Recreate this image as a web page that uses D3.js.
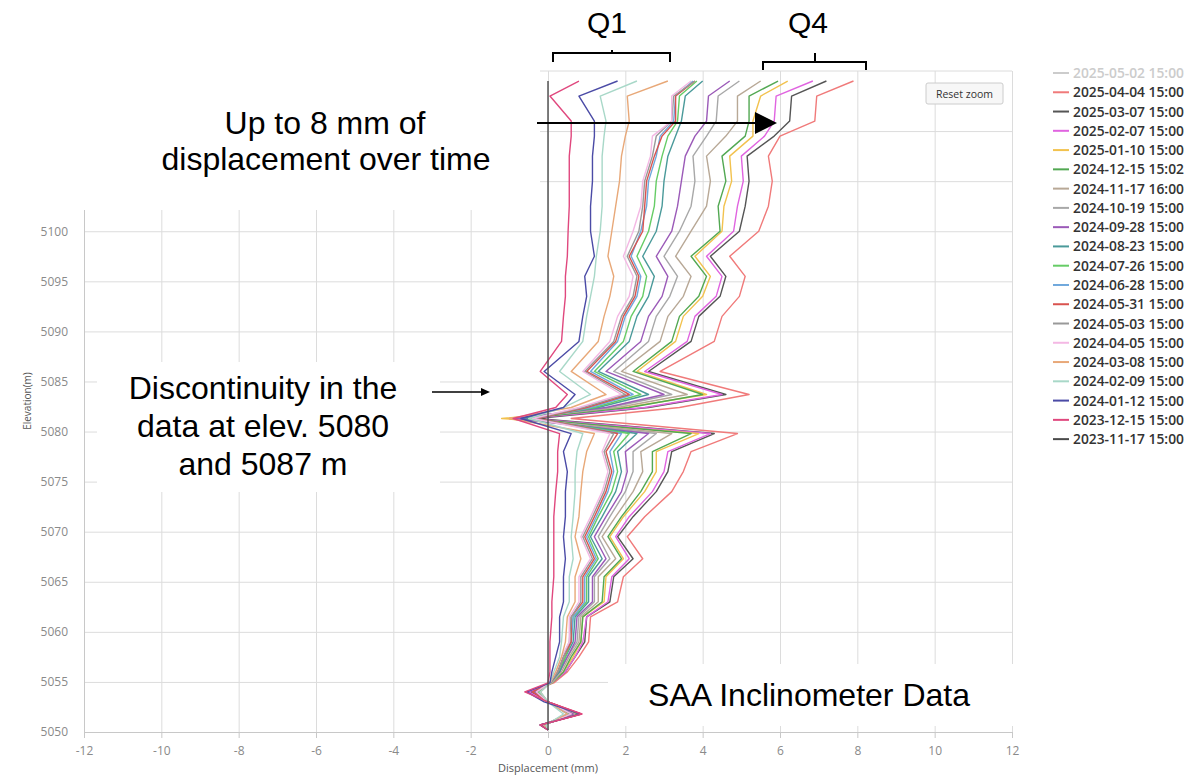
<!DOCTYPE html>
<html>
<head>
<meta charset="utf-8">
<script src="https://cdn.jsdelivr.net/npm/d3@7"></script>
<style>
  body { margin: 0; background: #fff; }
  svg { display: block; }
  .tick text { font-family: "Open Sans", sans-serif; }
</style>
</head>
<body>
<svg id="chart" width="1188" height="777"></svg>
<script>
// elevation of each sensor node (m), top to bottom
var elevations = [5115.0, 5113.5, 5111.0, 5109.5, 5107.5, 5105.0, 5102.5, 5100.0, 5097.5, 5095.5,
                  5093.5, 5091.5, 5089.0, 5086.0, 5083.7, 5082.4, 5081.3, 5079.8, 5078.0, 5076.0,
                  5074.0, 5071.5, 5069.5, 5067.3, 5065.5, 5063.0, 5061.5, 5059.0, 5057.5, 5056.0,
                  5054.9, 5054.0, 5053.0, 5051.8, 5050.7, 5050.2];

// cumulative displacement (mm) per survey, same order as elevations
var d20250404 = [7.9, 6.95, 6.9, 6.0, 5.7, 5.8, 5.7, 5.45, 4.7, 5.1, 4.95, 4.5, 4.3, 2.9, 5.2, 3.4, 0.6, 4.9, 3.7, 3.5, 3.2, 2.5, 2.05, 2.45, 1.95, 1.8, 1.1, 1.05, 0.8, 0.5, 0.15, -0.5, 0.0, 0.85, -0.2, 0.0];
var d20250307 = [7.2, 6.3, 6.25, 5.85, 5.15, 5.2, 5.1, 4.95, 4.2, 4.6, 4.45, 3.9, 3.7, 2.6, 4.6, 2.6, -0.3, 4.3, 3.2, 3.1, 2.8, 2.2, 1.8, 2.2, 1.7, 1.6, 1.0, 0.95, 0.7, 0.45, 0.1, -0.45, 0.0, 0.8, -0.2, 0.0];
var d20250207 = [6.85, 5.9, 5.85, 5.6, 5.0, 5.05, 4.9, 4.8, 4.1, 4.5, 4.35, 3.8, 3.6, 2.5, 4.5, 2.5, -0.5, 4.2, 3.1, 3.0, 2.7, 2.1, 1.75, 2.1, 1.65, 1.55, 1.0, 0.9, 0.7, 0.45, 0.1, -0.5, 0.0, 0.82, -0.2, 0.0];
var d20250110 = [6.2, 5.5, 5.3, 5.3, 4.7, 4.75, 4.55, 4.5, 3.8, 4.2, 4.0, 3.5, 3.3, 2.3, 4.1, 2.0, -1.2, 3.9, 2.8, 2.8, 2.5, 1.95, 1.6, 1.95, 1.5, 1.45, 0.9, 0.85, 0.65, 0.4, 0.1, -0.3, -0.05, 0.7, -0.15, 0.0];
var d20241215 = [5.95, 5.2, 5.2, 5.1, 4.5, 4.6, 4.4, 4.45, 3.7, 4.1, 3.9, 3.4, 3.2, 2.2, 4.0, 2.1, -0.6, 3.7, 2.7, 2.7, 2.4, 1.9, 1.55, 1.9, 1.45, 1.4, 0.9, 0.85, 0.6, 0.4, 0.1, -0.35, 0.0, 0.75, -0.15, 0.0];
var d20241117 = [5.5, 4.9, 4.9, 4.6, 4.1, 4.2, 4.1, 3.7, 3.3, 3.7, 3.5, 3.1, 2.9, 1.9, 3.6, 1.8, -0.8, 3.2, 2.4, 2.45, 2.2, 1.75, 1.4, 1.75, 1.3, 1.3, 0.85, 0.8, 0.55, 0.35, 0.1, -0.3, 0.0, 0.7, -0.15, 0.0];
var d20241019 = [4.95, 4.4, 4.35, 4.1, 3.75, 3.8, 3.7, 3.4, 3.0, 3.35, 3.15, 2.8, 2.6, 1.7, 3.2, 1.6, -0.7, 2.8, 2.2, 2.2, 2.0, 1.6, 1.3, 1.6, 1.2, 1.2, 0.8, 0.75, 0.5, 0.3, 0.05, -0.3, 0.0, 0.65, -0.15, 0.0];
var d20240928 = [4.7, 4.15, 4.1, 3.8, 3.55, 3.45, 3.35, 3.2, 2.8, 3.1, 2.95, 2.6, 2.4, 1.5, 3.0, 1.5, -0.9, 2.6, 2.0, 2.05, 1.9, 1.5, 1.2, 1.5, 1.15, 1.15, 0.75, 0.7, 0.5, 0.3, 0.05, -0.35, 0.0, 0.65, -0.15, 0.0];
var d20240823 = [4.0, 3.55, 3.45, 3.3, 3.1, 3.0, 2.95, 2.8, 2.45, 2.75, 2.6, 2.3, 2.1, 1.3, 2.6, 1.3, -0.6, 2.3, 1.8, 1.9, 1.75, 1.4, 1.1, 1.4, 1.05, 1.05, 0.7, 0.65, 0.45, 0.3, 0.05, -0.3, 0.0, 0.6, -0.1, 0.0];
var d20240726 = [3.85, 3.4, 3.35, 3.1, 2.95, 2.8, 2.75, 2.6, 2.3, 2.55, 2.45, 2.15, 1.95, 1.2, 2.4, 1.2, -0.5, 2.1, 1.7, 1.8, 1.65, 1.3, 1.05, 1.3, 1.0, 1.0, 0.65, 0.6, 0.45, 0.25, 0.05, -0.25, 0.0, 0.55, -0.1, 0.0];
var d20240628 = [3.75, 3.3, 3.25, 2.9, 2.8, 2.6, 2.55, 2.4, 2.15, 2.4, 2.3, 2.0, 1.8, 1.1, 2.2, 1.1, -0.4, 1.9, 1.6, 1.7, 1.55, 1.25, 1.0, 1.25, 0.95, 0.95, 0.65, 0.6, 0.4, 0.25, 0.05, -0.2, 0.0, 0.5, -0.1, 0.0];
var d20240531 = [3.8, 3.3, 3.3, 2.95, 2.75, 2.55, 2.5, 2.45, 2.1, 2.35, 2.25, 1.95, 1.75, 1.0, 2.1, 1.0, -0.3, 1.8, 1.5, 1.65, 1.5, 1.2, 0.95, 1.2, 0.9, 0.9, 0.6, 0.6, 0.4, 0.25, 0.05, -0.4, 0.0, 0.85, -0.2, 0.0];
var d20240503 = [3.8, 3.25, 3.2, 2.8, 2.7, 2.5, 2.45, 2.35, 2.05, 2.3, 2.2, 1.9, 1.7, 0.95, 2.0, 0.9, -0.35, 1.7, 1.45, 1.6, 1.45, 1.15, 0.9, 1.15, 0.85, 0.85, 0.6, 0.55, 0.4, 0.25, 0.05, -0.3, 0.0, 0.6, -0.1, 0.0];
var d20240405 = [3.7, 3.2, 3.2, 2.7, 2.65, 2.45, 2.4, 2.2, 1.95, 2.2, 2.1, 1.8, 1.6, 0.9, 1.9, 0.8, -0.4, 1.6, 1.4, 1.55, 1.4, 1.1, 0.85, 1.1, 0.8, 0.8, 0.55, 0.55, 0.35, 0.2, 0.05, -0.3, 0.0, 0.6, -0.1, 0.0];
var d20240308 = [3.1, 2.05, 2.1, 2.0, 1.9, 1.85, 1.75, 1.65, 1.55, 1.7, 1.6, 1.45, 1.3, 0.6, 1.5, 0.6, -1.0, 1.2, 1.0, 0.9, 0.85, 0.8, 0.7, 0.85, 0.7, 0.7, 0.5, 0.45, 0.35, 0.2, 0.05, -0.2, 0.0, 0.5, -0.1, 0.0];
var d20240209 = [2.3, 1.35, 1.5, 1.45, 1.4, 1.4, 1.4, 1.35, 1.25, 1.2, 1.1, 1.0, 0.9, 0.3, 1.1, 0.4, -0.5, 0.9, 0.75, 0.7, 0.7, 0.65, 0.6, 0.65, 0.55, 0.55, 0.4, 0.35, 0.3, 0.15, 0.05, -0.2, 0.0, 0.4, -0.05, 0.0];
var d20240112 = [1.8, 0.8, 1.2, 1.2, 1.15, 1.15, 1.1, 1.1, 1.2, 0.95, 1.0, 0.9, 0.8, -0.1, 0.7, 0.4, -0.7, 0.6, 0.4, 0.5, 0.45, 0.45, 0.4, 0.45, 0.4, 0.4, 0.3, 0.3, 0.2, 0.1, 0.05, -0.55, -0.1, 0.85, -0.2, 0.0];
var d20231215 = [0.8, 0.05, 0.6, 0.6, 0.55, 0.55, 0.55, 0.52, 0.5, 0.45, 0.45, 0.4, 0.35, -0.2, 0.5, 0.2, -0.9, 0.3, 0.25, 0.25, 0.2, 0.15, 0.15, 0.15, 0.15, 0.1, 0.1, 0.05, 0.05, 0.05, 0.0, -0.6, 0.0, 0.88, -0.2, 0.0];
var d20231117 = [0, 0, 0, 0, 0, 0, 0, 0, 0, 0, 0, 0, 0, 0, 0, 0, 0, 0, 0, 0, 0, 0, 0, 0, 0, 0, 0, 0, 0, 0, 0, 0, 0, 0, 0, 0];

var seriesNames = ["2025-05-02 15:00", "2025-04-04 15:00", "2025-03-07 15:00", "2025-02-07 15:00",
                   "2025-01-10 15:00", "2024-12-15 15:02", "2024-11-17 16:00", "2024-10-19 15:00",
                   "2024-09-28 15:00", "2024-08-23 15:00", "2024-07-26 15:00", "2024-06-28 15:00",
                   "2024-05-31 15:00", "2024-05-03 15:00", "2024-04-05 15:00", "2024-03-08 15:00",
                   "2024-02-09 15:00", "2024-01-12 15:00", "2023-12-15 15:00", "2023-11-17 15:00"];
var seriesValues = [null, d20250404, d20250307, d20250207, d20250110, d20241215, d20241117, d20241019,
                    d20240928, d20240823, d20240726, d20240628, d20240531, d20240503, d20240405,
                    d20240308, d20240209, d20240112, d20231215, d20231117];
var seriesColors = ["#cccccc", "#f07a7a", "#555555", "#e064e0", "#f2c24e", "#52a852", "#b8a896",
                    "#a8a8a8", "#9b5ab8", "#4a9a9a", "#66cc66", "#6fa8dc", "#d9534f", "#999999",
                    "#f4b8e4", "#e8a878", "#a8d8c8", "#4b4ba6", "#e0487e", "#4a4a4a"];

var xTicks = d3.range(-12, 13, 2);
var yTicks = d3.range(5050, 5115, 5);

var svg = d3.select("#chart");

var x = d3.scaleLinear().domain([-12, 12]).range([84, 1012]);
var y = d3.scaleLinear().domain([5050, 5116]).range([732, 71]);

// grid
var grid = svg.append("g");
grid.append("g")
    .attr("transform", "translate(0,732)")
    .call(d3.axisBottom(x).tickValues(xTicks).tickSize(-661).tickFormat(""))
    .call(g => g.select(".domain").remove())
    .selectAll("line").attr("stroke", "#dcdcdc");
grid.append("g")
    .attr("transform", "translate(84,0)")
    .call(d3.axisLeft(y).tickValues(yTicks).tickSize(-928).tickFormat(""))
    .call(g => g.select(".domain").remove())
    .selectAll("line").attr("stroke", "#dcdcdc");
grid.append("line")
    .attr("x1", 84).attr("x2", 1012).attr("y1", y(5116)).attr("y2", y(5116))
    .attr("stroke", "#dcdcdc");

// axes
var xAxis = svg.append("g")
    .attr("transform", "translate(0,732)")
    .call(d3.axisBottom(x).tickValues(xTicks).tickSize(6).tickPadding(8).tickFormat(d => String(d)));
xAxis.select(".domain").attr("stroke", "#c8c8c8");
xAxis.selectAll("line").attr("stroke", "#c8c8c8");
xAxis.selectAll("text").attr("fill", "#8a8a8a").attr("font-size", 12);

var yAxis = svg.append("g")
    .attr("transform", "translate(84,0)")
    .call(d3.axisLeft(y).tickValues(yTicks).tickSize(0).tickPadding(16).tickFormat(d => String(d)));
yAxis.select(".domain").attr("stroke", "#c8c8c8");
yAxis.selectAll("text").attr("fill", "#8a8a8a").attr("font-size", 12);

svg.append("text")
    .attr("x", 548).attr("y", 772)
    .attr("text-anchor", "middle")
    .attr("font-family", "Open Sans, sans-serif")
    .attr("font-size", 11)
    .attr("fill", "#555")
    .text("Displacement (mm)");

svg.append("text")
    .attr("transform", "translate(31,401) rotate(-90)")
    .attr("text-anchor", "middle")
    .attr("font-family", "Open Sans, sans-serif")
    .attr("font-size", 10)
    .attr("fill", "#555")
    .text("Elevation(m)");

// profiles
var line = d3.line()
    .x(function(d) { return x(d.v); })
    .y(function(d) { return y(d.e); });

var series = seriesNames.map(function(name, i) {
    return {
        name: name,
        color: seriesColors[i],
        hidden: seriesValues[i] === null,
        points: seriesValues[i] === null ? [] : seriesValues[i].map(function(v, j) {
            return {e: elevations[j], v: v};
        })
    };
});

svg.append("g")
    .selectAll("path")
    .data(series.filter(s => !s.hidden))
    .join("path")
    .attr("d", d => line(d.points))
    .attr("fill", "none")
    .attr("stroke", d => d.color)
    .attr("stroke-width", 1.4)
    .attr("stroke-linejoin", "round");

// reset zoom button
var btn = svg.append("g");
btn.append("rect")
    .attr("x", 926).attr("y", 83).attr("width", 77).attr("height", 21).attr("rx", 2)
    .attr("fill", "#f7f7f7").attr("stroke", "#cccccc");
btn.append("text")
    .attr("x", 964.5).attr("y", 98)
    .attr("text-anchor", "middle")
    .attr("font-family", "Open Sans, sans-serif")
    .attr("font-size", 10.5)
    .attr("fill", "#333")
    .text("Reset zoom");

// legend
var legend = svg.append("g")
    .selectAll("g")
    .data(series)
    .join("g")
    .attr("transform", (d, i) => "translate(1053," + (73 + i * 19.27) + ")");
legend.append("line")
    .attr("x1", 0).attr("x2", 16)
    .attr("stroke", d => d.color)
    .attr("stroke-width", 2);
legend.append("text")
    .attr("x", 20).attr("y", 5)
    .attr("font-family", "Open Sans, sans-serif")
    .attr("font-size", 13.8)
    .attr("font-weight", 600)
    .attr("fill", d => d.hidden ? "#cccccc" : "#333")
    .text(d => d.name);

// slide annotations on top of the chart
var notes = svg.append("g").attr("font-family", "Liberation Sans, Arial, sans-serif").attr("fill", "#000");

notes.append("rect").attr("x", 0).attr("y", 0).attr("width", 540).attr("height", 210).attr("fill", "#fff");
notes.append("rect").attr("x", 97).attr("y", 362).attr("width", 343).attr("height", 130).attr("fill", "#fff");
notes.append("rect").attr("x", 608).attr("y", 664).attr("width", 406).attr("height", 62).attr("fill", "#fff");

notes.append("text").attr("x", 607).attr("y", 33).attr("text-anchor", "middle").attr("font-size", 30).text("Q1");
notes.append("text").attr("x", 808).attr("y", 33).attr("text-anchor", "middle").attr("font-size", 30).text("Q4");

notes.append("path")
    .attr("d", "M553,62V53H670V62M612,53V50")
    .attr("fill", "none").attr("stroke", "#000").attr("stroke-width", 2);
notes.append("path")
    .attr("d", "M763,70V62H866V70M815,62V53")
    .attr("fill", "none").attr("stroke", "#000").attr("stroke-width", 2);

notes.append("line")
    .attr("x1", 537).attr("x2", 760).attr("y1", 123).attr("y2", 123)
    .attr("stroke", "#000").attr("stroke-width", 2);
notes.append("path").attr("d", "M755,112L777,123L755,134Z").attr("fill", "#000");

notes.append("text").attr("x", 325).attr("y", 134).attr("text-anchor", "middle").attr("font-size", 32).text("Up to 8 mm of");
notes.append("text").attr("x", 326).attr("y", 170).attr("text-anchor", "middle").attr("font-size", 32).text("displacement over time");

notes.append("text").attr("x", 263).attr("y", 399).attr("text-anchor", "middle").attr("font-size", 32).text("Discontinuity in the");
notes.append("text").attr("x", 263).attr("y", 437).attr("text-anchor", "middle").attr("font-size", 32).text("data at elev. 5080");
notes.append("text").attr("x", 263).attr("y", 475).attr("text-anchor", "middle").attr("font-size", 32).text("and 5087 m");

notes.append("line")
    .attr("x1", 432).attr("x2", 482).attr("y1", 392).attr("y2", 392)
    .attr("stroke", "#000").attr("stroke-width", 1.5);
notes.append("path").attr("d", "M481,388L490,392L481,396Z").attr("fill", "#000");

notes.append("text").attr("x", 809).attr("y", 706).attr("text-anchor", "middle").attr("font-size", 32).text("SAA Inclinometer Data");
</script>
</body>
</html>
